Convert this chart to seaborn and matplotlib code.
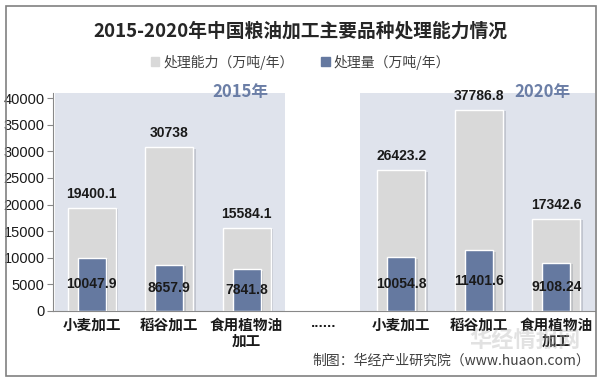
import pandas as pd
import seaborn as sns
import matplotlib.pyplot as plt
import matplotlib.patheffects as pe
from matplotlib.patches import Patch, Rectangle

# data
keys = ["2015小麦", "2015稻谷", "2015油", "gap", "2020小麦", "2020稻谷", "2020油"]
tick_labels = ["小麦加工", "稻谷加工", "食用植物油\n加工", "", "小麦加工", "稻谷加工", "食用植物油\n加工"]
gap_text = "······"
bar_keys = ["2015小麦", "2015稻谷", "2015油", "2020小麦", "2020稻谷", "2020油"]
capacity = [19400.1, 30738, 15584.1, 26423.2, 37786.8, 17342.6]
processed = [10047.9, 8657.9, 7841.8, 10054.8, 11401.6, 9108.24]

df = pd.DataFrame({"key": bar_keys, "capacity": capacity, "processed": processed})

sns.set_style("white")
plt.rcParams['font.family'] = ['Liberation Sans', 'Noto Sans CJK SC', 'DejaVu Sans']

fig = plt.figure(figsize=(6.01, 3.82), dpi=100)
ax = fig.add_axes([53 / 601, 71 / 382, 542 / 601, 218.3 / 382])

# panel shading
ax.axvspan(-0.47, 2.5, color="#dfe3ec", zorder=0, lw=0)
ax.axvspan(3.47, 6.5, color="#dfe3ec", zorder=0, lw=0)

shadow = [pe.SimplePatchShadow(offset=(2, -1), shadow_rgbFace="#8a8f99", alpha=0.35), pe.Normal()]

sns.barplot(data=df, x="key", y="capacity", order=keys, color="#d9d9d9",
            width=0.62, saturation=1, ax=ax, zorder=2)
sns.barplot(data=df, x="key", y="processed", order=keys, color="#6579a0",
            width=0.36, saturation=1, ax=ax, zorder=3)
for c in ax.containers:
    for p in c:
        p.set_path_effects(shadow)

ax.bar_label(ax.containers[0], fmt="{:g}", padding=5, fontsize=10,
             fontweight="bold", color="#1a1a1a")
ax.bar_label(ax.containers[1], fmt="{:g}", label_type="center", fontsize=10,
             fontweight="bold", color="#1a1a1a")

ax.set_xlim(-0.5, 6.5)
ax.set_ylim(0, 41000)
ax.set_yticks(range(0, 40001, 5000))
ax.set_xticks(range(7))
ax.set_xticklabels(tick_labels, family=["Noto Sans CJK SC", "DejaVu Sans"],
                   fontweight="bold", fontsize=10.5, color="#1a1a1a", linespacing=1.0)
ax.text(3, -0.075, gap_text, transform=ax.get_xaxis_transform(), ha="center", va="center",
        fontsize=8, fontweight="bold", family="DejaVu Sans", color="#1a1a1a")
ax.set_xticks([i - 0.5 for i in range(8)], minor=True)
ax.tick_params(axis="x", which="major", length=0, pad=4)
ax.tick_params(axis="x", which="minor", length=4, color="#888888", direction="out")
ax.tick_params(axis="y", length=4, color="#888888", labelsize=10.5, labelcolor="#1a1a1a", pad=2, left=True)
ax.set_xlabel("")
ax.set_ylabel("")
for s in ["top", "right"]:
    ax.spines[s].set_visible(False)
for s in ["left", "bottom"]:
    ax.spines[s].set_color("#888888")

# year labels
ax.text(1.92, 41150, "2015年", ha="center", va="center", fontsize=12, fontweight="bold",
        color="#6b7ea6", family=["Noto Sans CJK SC"])
ax.text(5.82, 41150, "2020年", ha="center", va="center", fontsize=12, fontweight="bold",
        color="#6b7ea6", family=["Noto Sans CJK SC"])

fig.text(0.5, 1 - 31 / 382, "2015-2020年中国粮油加工主要品种处理能力情况", ha="center", va="center",
         fontsize=13.5, fontweight="bold", color="#262626", family=["Noto Sans CJK SC"])

handles = [Patch(color="#d9d9d9", label="处理能力（万吨/年）"),
           Patch(color="#6579a0", label="处理量（万吨/年）")]
fig.legend(handles=handles, loc="center", bbox_to_anchor=(0.5, 1 - 62 / 382), ncol=2,
           frameon=False, handlelength=0.6, handleheight=0.6, handletextpad=0.3,
           columnspacing=2.0, prop={"family": "Noto Sans CJK SC", "size": 10}, labelcolor="#404040")

fig.text(525 / 601, 1 - 340 / 382, "华经情报网", ha="center", va="center", fontsize=16,
         fontweight="bold", color="#b8b8b8", alpha=0.4, family=["Noto Sans CJK SC"])
fig.text(590 / 601, 1 - 360 / 382, "制图：华经产业研究院（www.huaon.com）", ha="right", va="center",
         fontsize=10, color="#404040", family=["Noto Sans CJK SC", "DejaVu Sans"])

fig.patches.append(Rectangle((6 / 601, 6 / 382), 590 / 601, 370 / 382, transform=fig.transFigure,
                             fill=False, edgecolor="#808080", lw=1.2))

fig.savefig("out.png", dpi=100)
